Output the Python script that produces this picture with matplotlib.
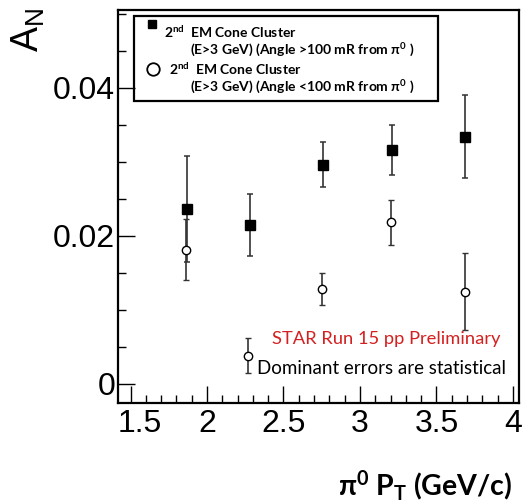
import matplotlib
matplotlib.use("Agg")
import matplotlib.pyplot as plt
from matplotlib.ticker import MultipleLocator
import matplotlib.transforms as mtransforms

# data
pt_far = [1.87, 2.28, 2.76, 3.21, 3.69]
an_far = [0.0236, 0.0214, 0.0296, 0.0316, 0.0334]
err_far = [0.0072, 0.0042, 0.0030, 0.0034, 0.0056]

pt_near = [1.86, 2.27, 2.75, 3.20, 3.69]
an_near = [0.0181, 0.0038, 0.0128, 0.0218, 0.0124]
err_near = [0.0041, 0.0024, 0.0022, 0.0030, 0.0052]

x_ticks = [1.5, 2, 2.5, 3, 3.5, 4]
x_ticklabels = ["1.5", "2", "2.5", "3", "3.5", "4"]
y_ticks = [0, 0.02, 0.04]
y_ticklabels = ["0", "0.02", "0.04"]

plt.rcParams['mathtext.fontset'] = 'custom'
plt.rcParams['mathtext.rm'] = 'Lato:bold'
plt.rcParams['mathtext.bf'] = 'Lato:bold'
plt.rcParams['mathtext.it'] = 'Lato:bold'

W, H = 523, 501
fig = plt.figure(figsize=(W / 100, H / 100), dpi=100)
ax = fig.add_axes([118 / W, (H - 403) / H, 401 / W, 393 / H])

ax.errorbar(pt_far, an_far, yerr=err_far, fmt='s', color='black', ms=7,
            ecolor='#333333', elinewidth=1.2, capsize=2.5, capthick=1.1)
ax.errorbar(pt_near, an_near, yerr=err_near, fmt='o', mfc='white', mec='black',
            mew=1.0, ms=6, ecolor='#333333', elinewidth=1.2, capsize=2.5,
            capthick=1.1)

ax.set_xlim(1.418, 4.04)
ax.set_ylim(-0.0026, 0.0505)
ax.set_xticks(x_ticks)
ax.set_xticklabels(x_ticklabels, fontsize=23, family='Liberation Sans')
ax.set_yticks(y_ticks)
ax.set_yticklabels(y_ticklabels, fontsize=23, family='Liberation Sans')
ax.xaxis.set_minor_locator(MultipleLocator(0.1))
ax.yaxis.set_minor_locator(MultipleLocator(0.005))
ax.tick_params(which='major', direction='in', length=12, width=1, pad=4)
ax.tick_params(which='minor', direction='in', length=6, width=1)
ax.tick_params(axis='y', pad=2)
for s in ax.spines.values():
    s.set_linewidth(1.6)

# first x label is nudged right, as in the original
lab = ax.get_xticklabels()[0]
lab.set_transform(lab.get_transform() + mtransforms.ScaledTranslation(0.09, 0, fig.dpi_scale_trans))

# legend box drawn by hand
box = plt.Rectangle((134 / W, 1 - 101 / H), 304 / W, 85 / H, transform=fig.transFigure,
                    fill=False, lw=1.6, ec='black')
fig.patches.append(box)
fig.lines.append(plt.Line2D([152 / W], [1 - 24 / H], marker='s', ms=6, color='black',
                            transform=fig.transFigure))
fig.lines.append(plt.Line2D([153 / W], [1 - 69 / H], marker='o', ms=9, mfc='white',
                            mec='black', mew=1.3, transform=fig.transFigure))
lfont = dict(family='Lato', fontweight='bold', fontsize=10, va='center')
fig.text(164 / W, 1 - 32 / H, r"2$^{\mathrm{nd}}$  EM Cone Cluster", **lfont)
fig.text(190 / W, 1 - 50 / H, r"(E>3 GeV) (Angle >100 mR from π$^{0}$ )", **lfont)
fig.text(169 / W, 1 - 69 / H, r"2$^{\mathrm{nd}}$  EM Cone Cluster", **lfont)
fig.text(190 / W, 1 - 87 / H, r"(E>3 GeV) (Angle <100 mR from π$^{0}$ )", **lfont)

ax.text(501 / W, 1 - 339 / H, "STAR Run 15 pp Preliminary", transform=fig.transFigure,
        ha='right', va='center', color='#d42020', fontsize=13.2, family='Lato')
ax.text(506 / W, 1 - 369 / H, "Dominant errors are statistical", transform=fig.transFigure,
        ha='right', va='center', color='black', fontsize=13.5, family='Lato')

fig.text(27 / W, 1 - 30 / H, r"A$_{\mathregular{N}}$", rotation=90, ha='center', va='center',
         fontsize=27, family='Liberation Sans')
fig.text(512 / W, 1 - 485 / H, r"π$^{0}$ P$_{\mathrm{T}}$ (GeV/c)", ha='right', va='center',
         fontsize=20.5, family='Lato', fontweight='bold')

fig.savefig("out.png", dpi=100)
